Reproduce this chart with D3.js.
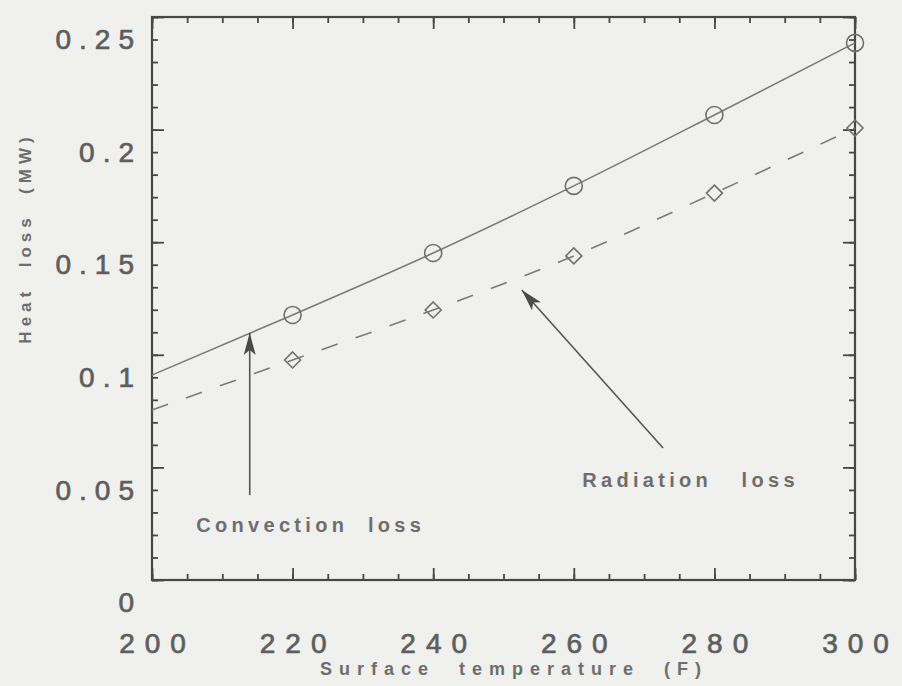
<!DOCTYPE html>
<html>
<head>
<meta charset="utf-8">
<script src="https://cdn.jsdelivr.net/npm/d3@7"></script>
<style>
  html, body { margin: 0; padding: 0; background: #f0f0ee; }
  svg text { font-family: "Liberation Sans", Arial, sans-serif; fill: #5e5e5e; white-space: pre; }
</style>
</head>
<body>
<svg id="chart" width="902" height="686"></svg>
<script>
// surface temperature (F) and heat loss (MW)
const temps = [200, 220, 240, 260, 280, 300]
const convection = [0.091, 0.1177, 0.1452, 0.175, 0.2065, 0.2385]
const radiation = [0.0755, 0.0977, 0.1199, 0.1439, 0.1718, 0.2007]
const markerTemps = [220, 240, 260, 280, 300]

const xTicks = [200, 220, 240, 260, 280, 300]
const xTickLabels = ["200", "220", "240", "260", "280", "300"]
const yTicks = [0, 0.05, 0.1, 0.15, 0.2, 0.25]
const yTickLabels = ["0", "0.05", "0.1", "0.15", "0.2", "0.25"]

const annotations = [
  {text: "Convection  loss", x: 206.3, y: 0.0244, from: [213.9, 0.0377], to: [213.9, 0.1097]},
  {text: "Radiation   loss", x: 261.2, y: 0.0444, from: [272.7, 0.0586], to: [252.6, 0.1288]}
]

const svg = d3.select("#chart")
const margin = {left: 152, right: 47, top: 17, bottom: 106}
const W = 902, H = 686

const x = d3.scaleLinear().domain([200, 300]).range([margin.left, W - margin.right])
const y = d3.scaleLinear().domain([0, 0.25]).range([H - margin.bottom, margin.top])

const axisColor = "#474747"

// minor + major inward ticks on all four sides
function ticks(g, axis) {
  g.call(axis)
  g.select(".domain").remove()
  g.selectAll(".tick line").attr("stroke", axisColor).attr("stroke-width", 1.8)
}
const xMinor = d3.range(200, 301, 5)
const yMinor = d3.range(0, 0.2501, 0.01)

svg.append("g").attr("transform", `translate(0,${y(0)})`)
  .call(ticks, d3.axisBottom(x).tickValues(xMinor).tickSize(-6).tickFormat(""))
svg.append("g").attr("transform", `translate(0,${y(0.25)})`)
  .call(ticks, d3.axisTop(x).tickValues(xMinor).tickSize(-6).tickFormat(""))
svg.append("g").attr("transform", `translate(0,${y(0.25)})`)
  .call(ticks, d3.axisTop(x).tickValues(xTicks).tickSize(-12).tickFormat(""))
svg.append("g").attr("transform", `translate(${x(200)},0)`)
  .call(ticks, d3.axisLeft(y).tickValues(yMinor).tickSize(-6).tickFormat(""))
svg.append("g").attr("transform", `translate(${x(300)},0)`)
  .call(ticks, d3.axisRight(y).tickValues(yMinor).tickSize(-6).tickFormat(""))
svg.append("g").attr("transform", `translate(${x(300)},0)`)
  .call(ticks, d3.axisRight(y).tickValues(yTicks).tickSize(-12).tickFormat(""))

const xAxis = svg.append("g").attr("transform", `translate(0,${y(0)})`)
  .call(ticks, d3.axisBottom(x).tickValues(xTicks).tickSize(-12).tickFormat((d, i) => xTickLabels[i]))
xAxis.selectAll("text")
  .attr("y", 63).attr("dy", "0.35em").attr("dx", 5)
  .style("font-size", "28px").style("letter-spacing", "10px")
  .style("fill", "#5e5e5e").style("stroke", "#5e5e5e").style("stroke-width", 0.7)

const yAxis = svg.append("g").attr("transform", `translate(${x(200)},0)`)
  .call(ticks, d3.axisLeft(y).tickValues(yTicks).tickSize(-12).tickFormat((d, i) => yTickLabels[i]))
yAxis.selectAll("text")
  .attr("x", -10).attr("y", 22).attr("dy", "0.35em")
  .style("font-size", "28px").style("letter-spacing", "8px")
  .style("fill", "#5e5e5e").style("stroke", "#5e5e5e").style("stroke-width", 0.7)

// plot frame
svg.append("rect")
  .attr("x", x(200)).attr("y", y(0.25))
  .attr("width", x(300) - x(200)).attr("height", y(0) - y(0.25))
  .attr("fill", "none").attr("stroke", axisColor).attr("stroke-width", 2.2)

// curves
const line = d3.line().x(d => x(d[0])).y(d => y(d[1])).curve(d3.curveMonotoneX)
svg.append("path")
  .datum(temps.map((t, i) => [t, convection[i]]))
  .attr("d", line).attr("fill", "none")
  .attr("stroke", "#7a7a7a").attr("stroke-width", 1.6)
svg.append("path")
  .datum(temps.map((t, i) => [t, radiation[i]]))
  .attr("d", line).attr("fill", "none")
  .attr("stroke", "#7a7a7a").attr("stroke-width", 1.6)
  .attr("stroke-dasharray", "17,19")

// markers
svg.selectAll("circle.conv")
  .data(markerTemps)
  .join("circle")
  .attr("cx", d => x(d)).attr("cy", d => y(convection[temps.indexOf(d)]))
  .attr("r", 8.5).attr("fill", "none").attr("stroke", "#707070").attr("stroke-width", 1.6)
svg.selectAll("path.diam")
  .data(markerTemps)
  .join("path")
  .attr("transform", d => `translate(${x(d)},${y(radiation[temps.indexOf(d)])})`)
  .attr("d", "M0,-8L8,0L0,8L-8,0Z")
  .attr("fill", "none").attr("stroke", "#707070").attr("stroke-width", 1.6)

// annotation arrows
svg.append("defs").append("marker")
  .attr("id", "head").attr("viewBox", "0 0 22 12")
  .attr("refX", 22).attr("refY", 6)
  .attr("markerWidth", 22).attr("markerHeight", 12)
  .attr("markerUnits", "userSpaceOnUse").attr("orient", "auto")
  .append("path").attr("d", "M0,0L22,6L0,12L5,6Z").attr("fill", "#4a4a4a")

annotations.forEach(a => {
  svg.append("line")
    .attr("x1", x(a.from[0])).attr("y1", y(a.from[1]))
    .attr("x2", x(a.to[0])).attr("y2", y(a.to[1]))
    .attr("stroke", "#555").attr("stroke-width", 1.6)
    .attr("marker-end", "url(#head)")
  svg.append("text")
    .attr("x", x(a.x)).attr("y", y(a.y)).attr("dy", "0.35em")
    .style("font-size", "20px").style("font-weight", "bold").style("fill", "#6e6e6e")
    .style("letter-spacing", "4.3px")
    .text(a.text)
})

// axis titles
svg.append("text")
  .attr("x", 320).attr("y", 669).attr("dy", "0.35em")
  .style("font-size", "18px").style("font-weight", "bold").style("fill", "#6e6e6e")
  .style("letter-spacing", "7px")
  .text("Surface  temperature  (F)")
svg.append("text")
  .attr("transform", "translate(25,238) rotate(-90)")
  .attr("text-anchor", "middle").attr("dy", "0.35em")
  .style("font-size", "17px").style("font-weight", "bold").style("fill", "#6e6e6e")
  .style("letter-spacing", "5px")
  .text("Heat  loss  (MW)")
</script>
</body>
</html>
